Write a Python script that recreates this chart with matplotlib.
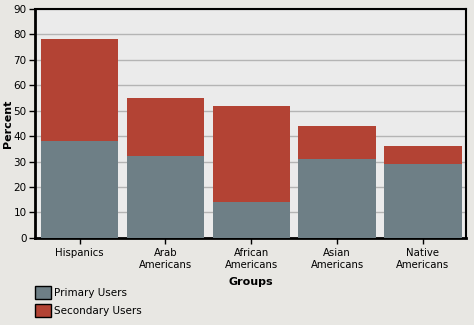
import matplotlib.pyplot as plt
from matplotlib.patches import Patch

# Data
groups = ["Hispanics", "Arab\nAmericans", "African\nAmericans", "Asian\nAmericans", "Native\nAmericans"]
primary = [38, 32, 14, 31, 29]
total = [78, 55, 52, 44, 36]
secondary = [t - p for t, p in zip(total, primary)]

c_primary = '#6e7f86'
c_secondary = '#b34334'

fig = plt.figure(figsize=(4.74, 3.25), dpi=100, facecolor='#e8e7e3')
ax = fig.add_axes([0.0738, 0.268, 0.909, 0.7046], facecolor='#ebebeb')

x = range(len(groups))
ax.bar(x, primary, width=0.9, color=c_primary, zorder=3)
ax.bar(x, secondary, width=0.9, bottom=primary, color=c_secondary, zorder=3)

ax.set_xlim(-0.52, 4.5)
ax.set_ylim(0, 90)
ax.set_yticks(range(0, 91, 10))
ax.set_xticks(list(x))
ax.set_xticklabels(groups, fontsize=7.3, linespacing=1.35)
ax.tick_params(axis='y', labelsize=7.5, length=4, width=1, pad=2)
ax.tick_params(axis='x', length=4, width=1, pad=3)
ax.yaxis.grid(True, color='#b4b4b4', linewidth=1, zorder=0)

for side in ['left', 'bottom']:
    ax.spines[side].set_linewidth(2)
for side in ['top', 'right']:
    ax.spines[side].set_linewidth(1.5)

ax.set_ylabel("Percent", fontsize=8, fontweight='bold')
ax.yaxis.set_label_coords(-0.05, 0.5)
ax.set_xlabel("Groups", fontsize=8, fontweight='bold', labelpad=5)

handles = [Patch(facecolor=c_primary, edgecolor='black', linewidth=1),
           Patch(facecolor=c_secondary, edgecolor='black', linewidth=1)]
fig.legend(handles, ["Primary Users", "Secondary Users"], loc='upper left',
           bbox_to_anchor=(0.063, 0.136), frameon=False, fontsize=7.5,
           handlelength=1.5, handleheight=1.5, handletextpad=0.35,
           labelspacing=0.5, borderpad=0)

fig.savefig("out.png", dpi=100, facecolor=fig.get_facecolor())
